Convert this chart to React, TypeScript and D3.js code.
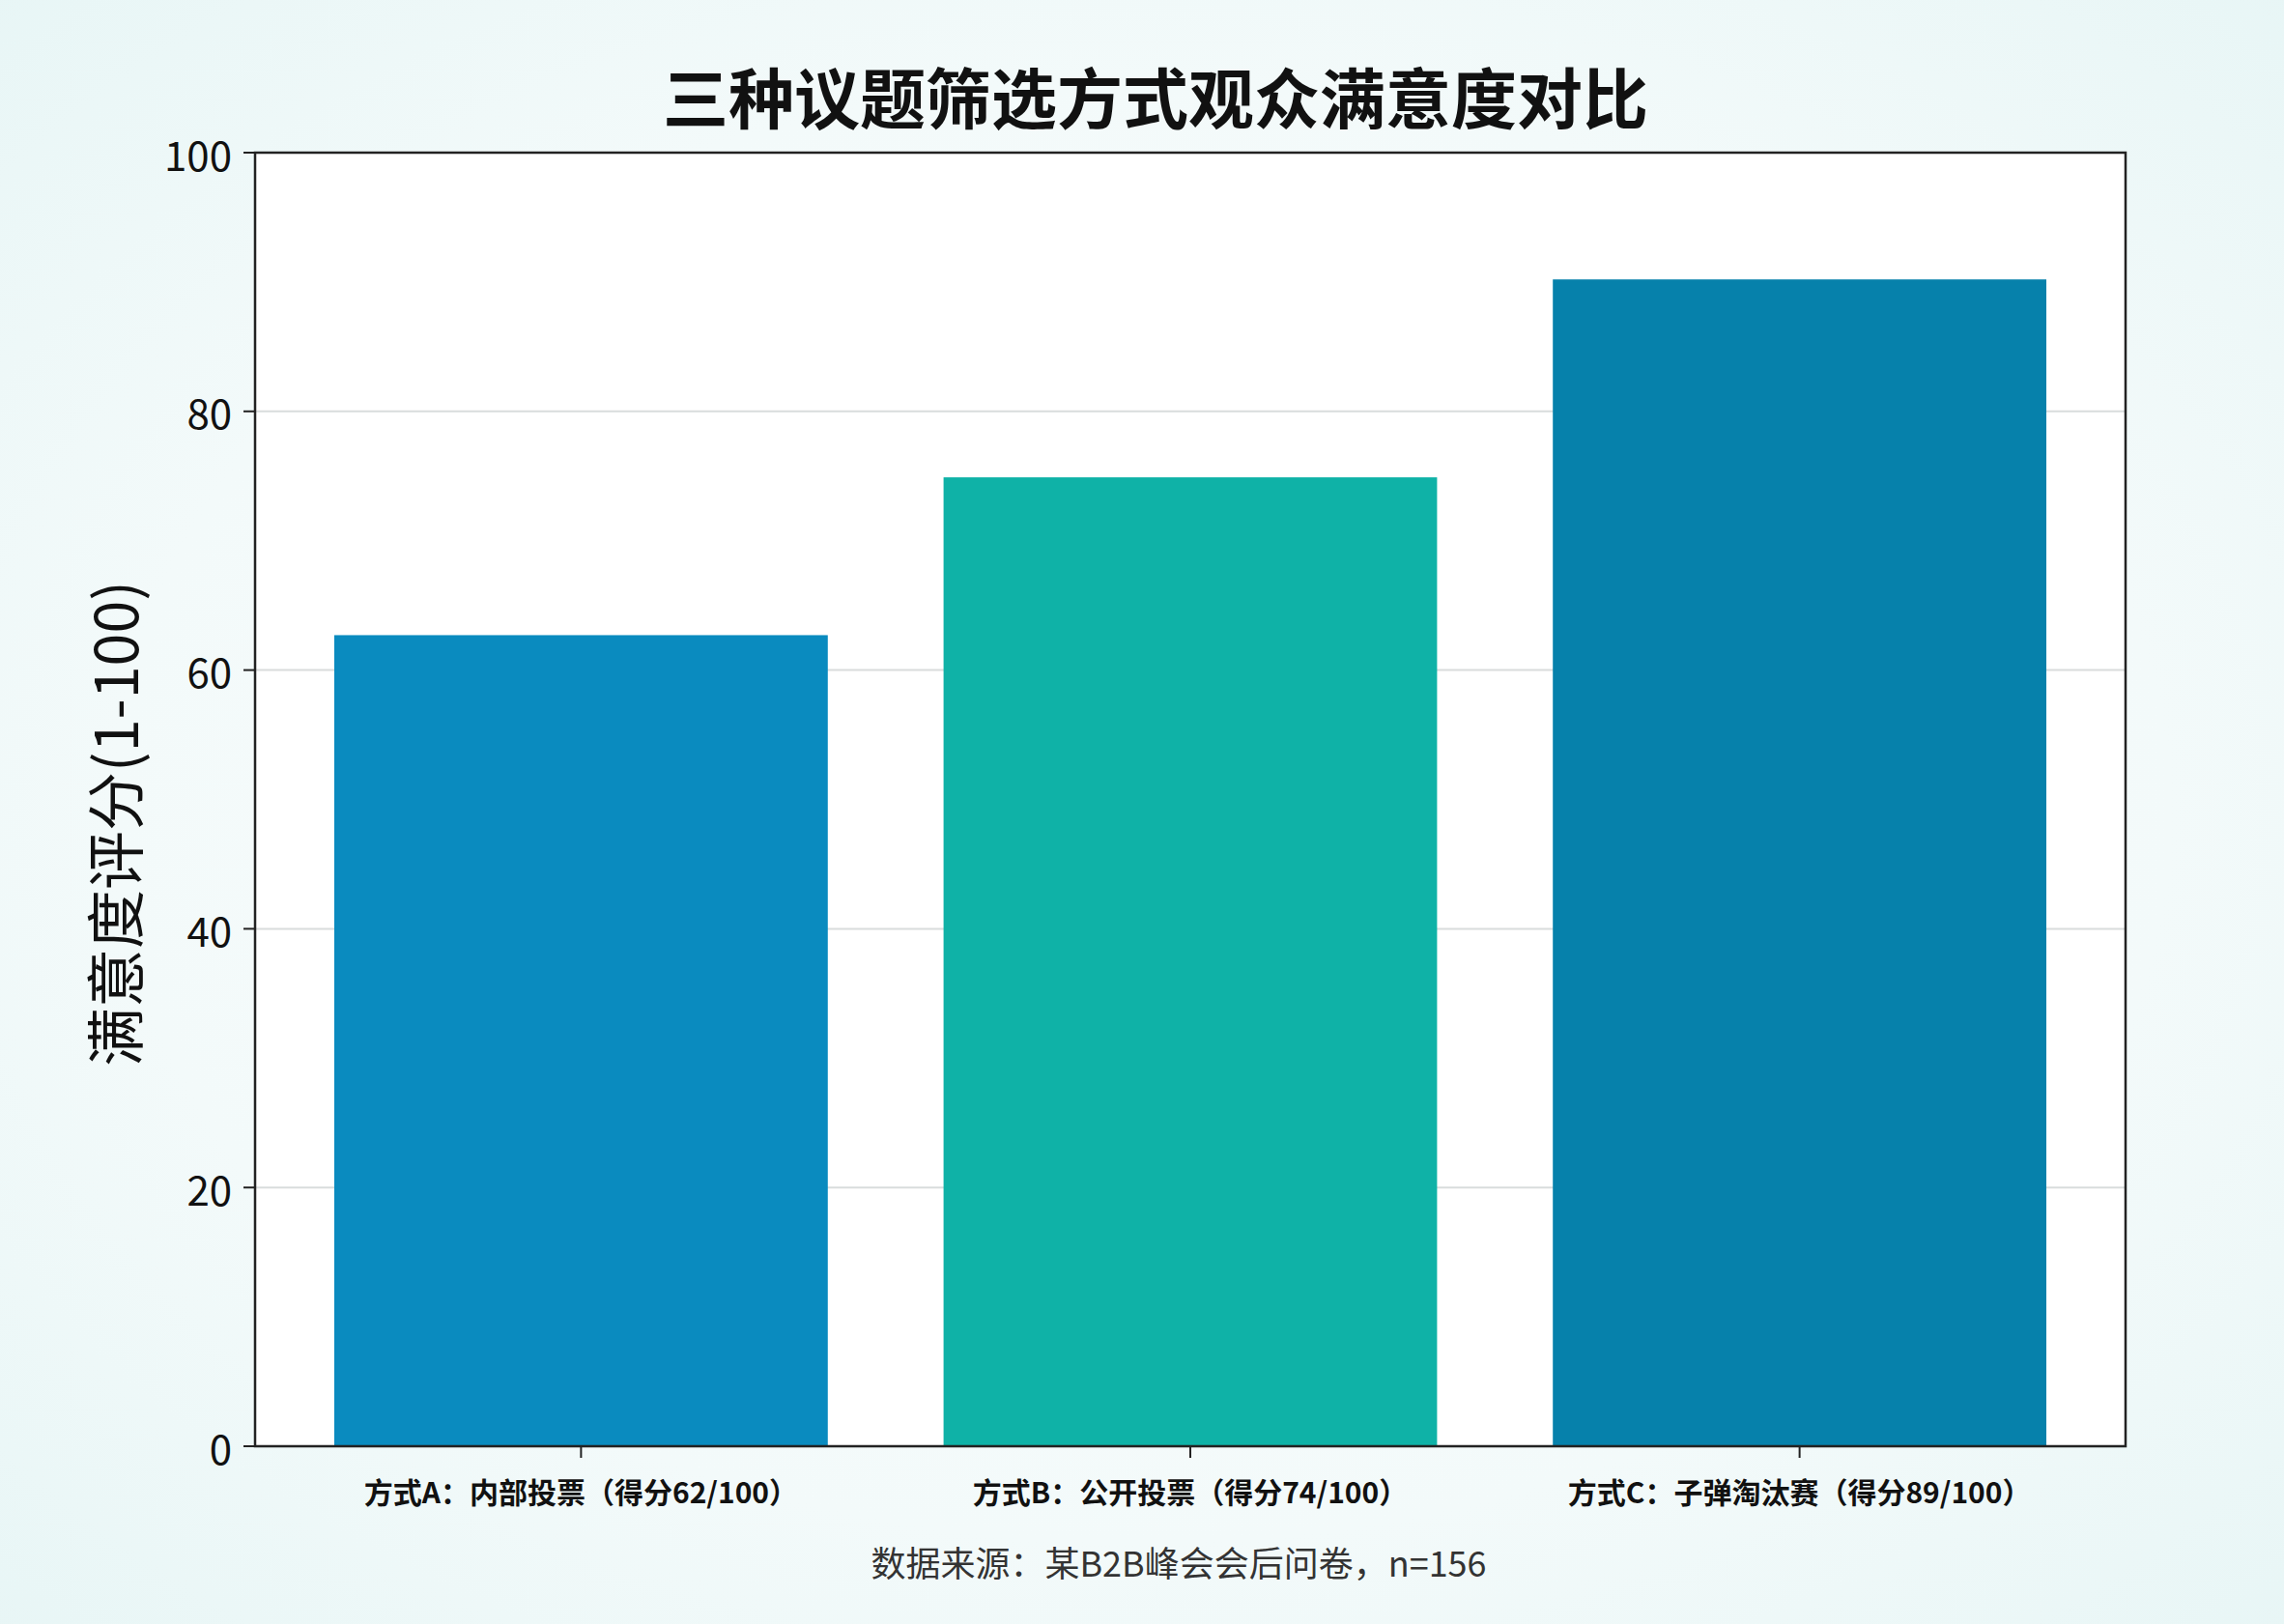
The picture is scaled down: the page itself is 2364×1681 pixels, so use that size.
import React from "react";
import * as d3 from "d3";

const categories = [
  "方式A：内部投票（得分62/100）",
  "方式B：公开投票（得分74/100）",
  "方式C：子弹淘汰赛（得分89/100）",
];
const values = [62.7, 74.9, 90.2];
const barColors = ["#0a8bbf", "#0fb2a7", "#0681ab"];
const yTicks = [0, 20, 40, 60, 80, 100];
const title = "三种议题筛选方式观众满意度对比";
const yLabel = "满意度评分(1-100)";
const source = "数据来源：某B2B峰会会后问卷，n=156";

const W = 2364;
const H = 1681;
const M = { left: 264, right: 2200, top: 158, bottom: 1497 };
const FONT = "'Noto Sans CJK SC', 'Noto Sans', sans-serif";

export default function App() {
  const x = d3
    .scaleBand<string>()
    .domain(categories)
    .range([M.left, M.right])
    .paddingInner(0.19)
    .paddingOuter(0.13);
  const y = d3.scaleLinear().domain([0, 100]).range([M.bottom, M.top]);

  return (
    <svg
      width={W}
      height={H}
      style={{ position: "absolute", left: 0, top: 0, display: "block" }}
    >
      <defs>
        <radialGradient id="bg" cx="50%" cy="50%" r="75%">
          <stop offset="0%" stopColor="#fbfdfd" />
          <stop offset="60%" stopColor="#f3fafa" />
          <stop offset="100%" stopColor="#e6f5f5" />
        </radialGradient>
      </defs>
      <rect x={0} y={0} width={W} height={H} fill="url(#bg)" />
      <rect
        x={M.left}
        y={M.top}
        width={M.right - M.left}
        height={M.bottom - M.top}
        fill="#ffffff"
      />
      {yTicks.map((t) => (
        <g key={t}>
          {t > 0 && t < 100 && (
            <line
              x1={M.left}
              x2={M.right}
              y1={y(t)}
              y2={y(t)}
              stroke="#d9dcdc"
              strokeWidth={2}
            />
          )}
          <line
            x1={M.left - 12}
            x2={M.left}
            y1={y(t)}
            y2={y(t)}
            stroke="#222"
            strokeWidth={2}
          />
          <text
            x={M.left - 24}
            y={y(t)}
            textAnchor="end"
            dominantBaseline="central"
            fontFamily={FONT}
            fontSize={42}
            fill="#111"
          >
            {t}
          </text>
        </g>
      ))}
      {categories.map((c, i) => (
        <rect
          key={c}
          x={x(c)}
          y={y(values[i])}
          width={x.bandwidth()}
          height={y(0) - y(values[i])}
          fill={barColors[i]}
        />
      ))}
      <rect
        x={M.left}
        y={M.top}
        width={M.right - M.left}
        height={M.bottom - M.top}
        fill="none"
        stroke="#222"
        strokeWidth={2.5}
      />
      {categories.map((c) => {
        const cx = (x(c) as number) + x.bandwidth() / 2;
        return (
          <g key={c}>
            <line
              x1={cx}
              x2={cx}
              y1={M.bottom}
              y2={M.bottom + 12}
              stroke="#222"
              strokeWidth={2}
            />
            <text
              x={cx}
              y={1543}
              textAnchor="middle"
              dominantBaseline="central"
              fontFamily={FONT}
              fontWeight="bold"
              fontSize={30}
              fill="#111"
            >
              {c}
            </text>
          </g>
        );
      })}
      <text
        x={1196}
        y={98}
        textAnchor="middle"
        dominantBaseline="central"
        fontFamily={FONT}
        fontWeight="bold"
        fontSize={68}
        fill="#111"
      >
        {title}
      </text>
      <text
        transform={`translate(116, ${(M.top + M.bottom) / 2 + 25}) rotate(-90)`}
        textAnchor="middle"
        dominantBaseline="central"
        fontFamily={FONT}
        fontSize={61}
        fill="#111"
      >
        {yLabel}
      </text>
      <text
        x={1220}
        y={1616}
        textAnchor="middle"
        dominantBaseline="central"
        fontFamily={FONT}
        fontSize={36}
        fill="#333"
      >
        {source}
      </text>
    </svg>
  );
}
